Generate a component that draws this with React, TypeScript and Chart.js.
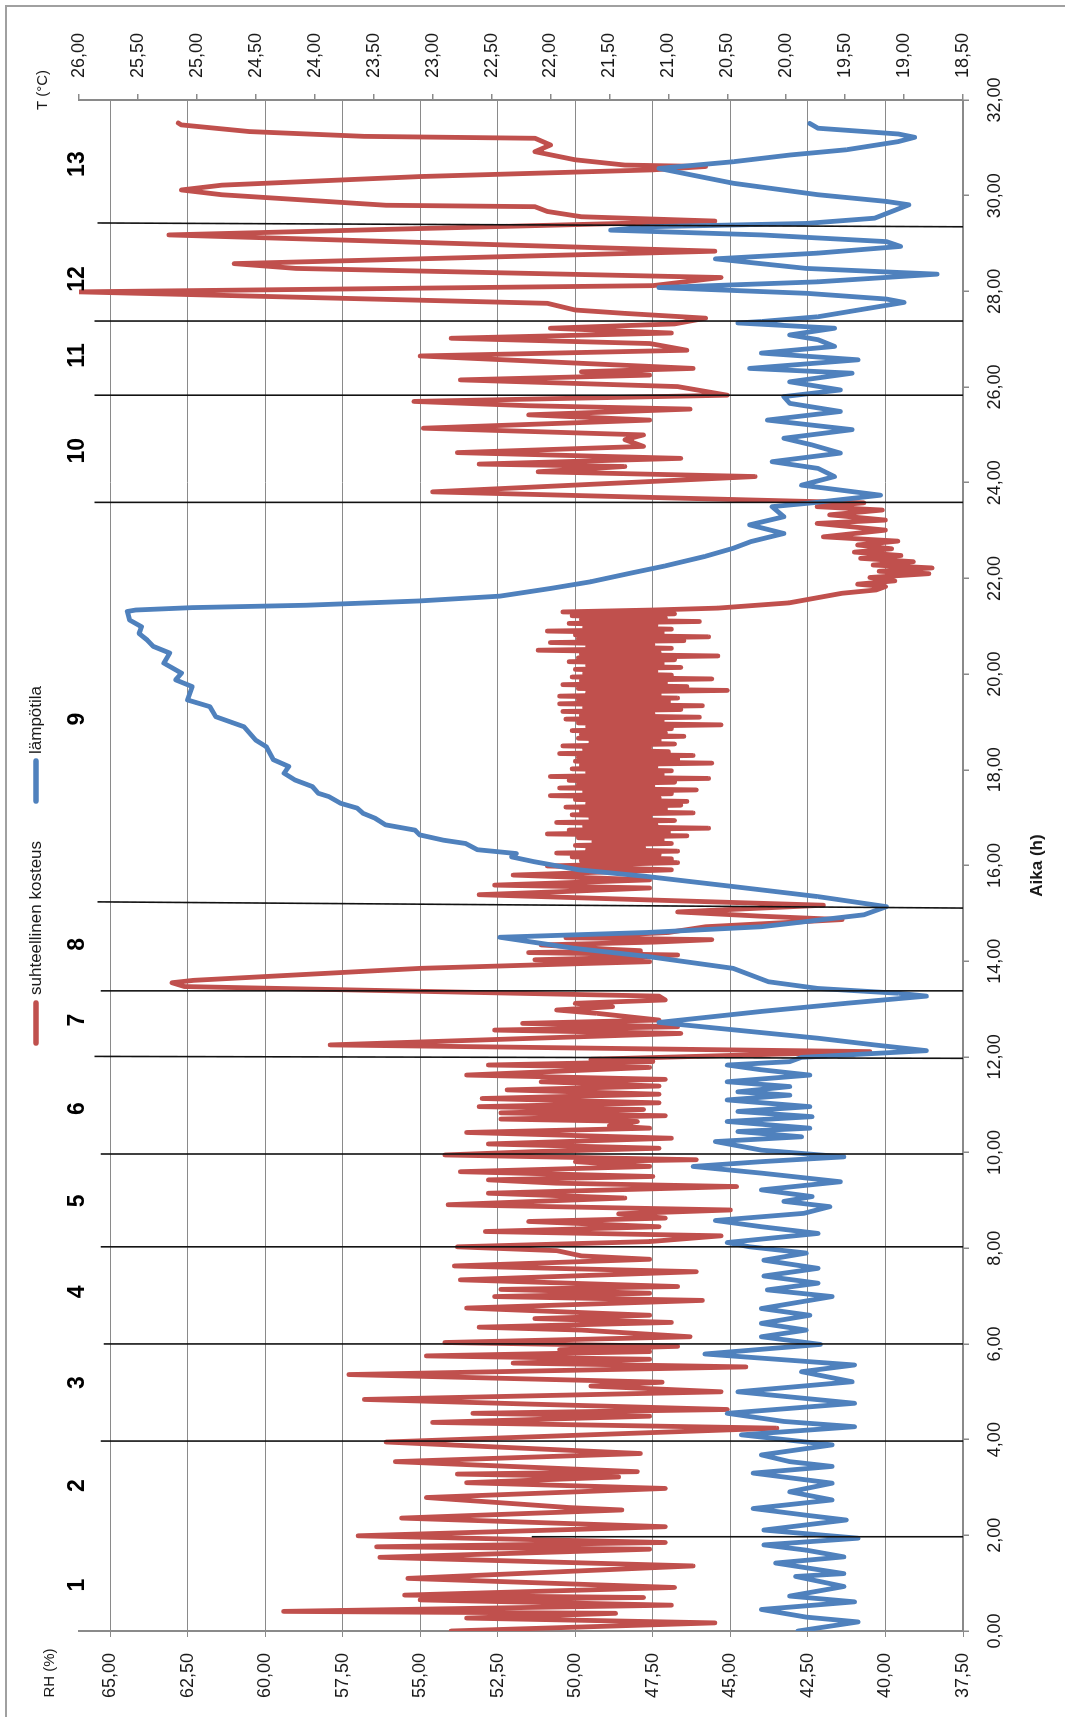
import { useEffect, useRef } from "react";
import { Chart, registerables } from "chart.js";

Chart.register(...registerables);

// Landscape drawing size; the canvas is turned a quarter turn on the page.
const W = 1717;
const H = 1065;

const FONT = "'Liberation Sans', Arial, sans-serif";
const RED = "#C0504D";
const BLUE = "#4F81BD";
const GRID = "#8a8a8a";
const TEXT = "#1a1a1a";

// Axis ticks
const hourTicks = [0, 2, 4, 6, 8, 10, 12, 14, 16, 18, 20, 22, 24, 26, 28, 30, 32];
const rhTicks = [37.5, 40, 42.5, 45, 47.5, 50, 52.5, 55, 57.5, 60, 62.5, 65];
const tempTicks = [18.5, 19, 19.5, 20, 20.5, 21, 21.5, 22, 22.5, 23, 23.5, 24, 24.5, 25, 25.5, 26];

// Test phases: label and centre hour
const sectionNames = ["1", "2", "3", "4", "5", "6", "7", "8", "9", "10", "11", "12", "13"];
const sectionCentres = [0.96, 3.04, 5.19, 7.09, 8.99, 10.92, 12.77, 14.35, 19.06, 24.67, 26.66, 28.26, 30.66];

// Phase boundaries: hour at the top end, hour at the axis end, RH level where the line begins
const edgeTopHours = [1.97, 3.97, 6.0, 8.03, 9.97, 12.01, 13.38, 15.24, 23.59, 25.83, 27.38, 29.43];
const edgeAxisHours = [1.97, 3.97, 6.0, 8.03, 9.97, 11.97, 13.38, 15.11, 23.59, 25.83, 27.38, 29.35];
const edgeStartRh = [51.4, 65.3, 65.2, 65.3, 65.3, 65.5, 65.3, 65.4, 65.5, 65.5, 65.5, 65.4];

// Relative humidity (%) readings: [hour, RH]
const rh0to4: [number, number][] = [
  [0, 54.0], [0.17, 45.5], [0.27, 53.5], [0.37, 48.7], [0.41, 59.4], [0.54, 46.9], [0.65, 55.0],
  [0.7, 47.8], [0.75, 55.5], [0.91, 46.8], [1.1, 55.4], [1.36, 46.2], [1.54, 56.3], [1.71, 47.6],
  [1.76, 56.4], [1.85, 47.1], [1.99, 57.0], [2.18, 47.1], [2.36, 55.6], [2.53, 48.5], [2.58, 50.2],
  [2.79, 54.8], [2.98, 47.1], [3.1, 53.5], [3.22, 48.6], [3.28, 53.8], [3.33, 48.0], [3.54, 55.8],
  [3.71, 47.9], [3.95, 56.1],
];
const rh4to9: [number, number][] = [
  [4.24, 43.5], [4.36, 54.6], [4.49, 47.6], [4.55, 53.3], [4.63, 45.1], [4.74, 51.3], [4.84, 56.8],
  [5.0, 45.3], [5.12, 49.5], [5.2, 47.2], [5.36, 57.3], [5.52, 44.5], [5.6, 52.0], [5.68, 47.6],
  [5.75, 54.8], [5.84, 47.6], [5.88, 50.5], [5.95, 46.7], [6.03, 54.2], [6.15, 46.3], [6.29, 49.8],
  [6.35, 53.1], [6.45, 46.9], [6.53, 51.3], [6.6, 47.6], [6.75, 53.5], [6.91, 45.9], [6.99, 52.6],
  [7.06, 47.6], [7.14, 52.4], [7.2, 46.7], [7.34, 53.7], [7.51, 46.1], [7.63, 53.9], [7.77, 47.6],
  [7.84, 49.8], [7.95, 50.6], [8.03, 53.8], [8.14, 47.6], [8.26, 45.3], [8.35, 52.9], [8.45, 47.3],
  [8.56, 51.5], [8.63, 47.1], [8.72, 48.6], [8.8, 45.0], [8.91, 54.1],
];
const rh9to14: [number, number][] = [
  [9.05, 48.4], [9.15, 52.8], [9.29, 44.8], [9.36, 50.6], [9.43, 52.8], [9.5, 47.5], [9.6, 53.7],
  [9.71, 47.6], [9.81, 50.0], [9.85, 46.1], [9.95, 54.2], [10.02, 51.3], [10.09, 47.3], [10.18, 52.8],
  [10.3, 46.9], [10.42, 53.5], [10.51, 47.6], [10.56, 48.9], [10.65, 48.0], [10.7, 52.4], [10.77, 47.1],
  [10.83, 52.4], [10.9, 47.8], [10.96, 53.1], [11.04, 47.3], [11.13, 53.0], [11.22, 47.3], [11.31, 52.2],
  [11.39, 47.3], [11.48, 51.1], [11.53, 47.1], [11.62, 53.5], [11.78, 47.6], [11.83, 52.8], [11.9, 47.5],
  [11.95, 49.5], [12.11, 40.5], [12.25, 57.9], [12.49, 46.6], [12.56, 52.6], [12.63, 46.7], [12.7, 51.7],
  [12.77, 47.3], [12.91, 49.3], [12.98, 50.6], [13.05, 48.8], [13.12, 50.0], [13.19, 47.1], [13.27, 47.3],
  [13.47, 62.6], [13.55, 63.0],
];
const rh13to16: [number, number][] = [
  [13.6, 62.3], [13.85, 55.0], [13.95, 49.8], [13.99, 47.6], [14.03, 51.3], [14.08, 48.2], [14.13, 46.7],
  [14.18, 51.5], [14.22, 47.9], [14.25, 48.9], [14.34, 51.1], [14.4, 47.4], [14.45, 45.6], [14.49, 50.3],
  [14.52, 49.5], [14.6, 47.0], [14.72, 45.8], [14.87, 41.4], [14.94, 44.0], [15.03, 46.7], [15.17, 42.0],
  [15.28, 47.6], [15.39, 53.1], [15.46, 50.2], [15.53, 47.6], [15.59, 52.6], [15.7, 47.6], [15.8, 52.0],
  [15.91, 46.9], [15.99, 50.9], [16.06, 46.7],
];
const rh16to21: [number, number][] = [
  [16.1, 49.8], [16.14, 46.9], [16.18, 50.1], [16.22, 47.3], [16.26, 50.6], [16.3, 46.7], [16.34, 49.6],
  [16.38, 47.8], [16.42, 50.0], [16.46, 46.9], [16.5, 49.4], [16.54, 47.2], [16.58, 49.9], [16.62, 46.4],
  [16.66, 50.9], [16.7, 47.0], [16.74, 50.2], [16.78, 45.7], [16.82, 49.7], [16.86, 47.4], [16.9, 50.6],
  [16.94, 46.8], [16.98, 49.5], [17.02, 47.6], [17.06, 50.1], [17.1, 46.2], [17.14, 49.8], [17.18, 47.1],
  [17.22, 50.3], [17.26, 46.6], [17.3, 49.6], [17.34, 46.4], [17.38, 50.0], [17.42, 47.3], [17.46, 50.8],
  [17.5, 46.9], [17.54, 49.7], [17.58, 46.1], [17.62, 50.5], [17.66, 47.5], [17.7, 49.9], [17.74, 46.8],
  [17.78, 50.2], [17.82, 45.7], [17.86, 50.8], [17.9, 47.2], [17.94, 49.6], [17.98, 46.9], [18.02, 50.1],
  [18.06, 47.4], [18.1, 49.8], [18.14, 45.6], [18.18, 50.0], [18.22, 46.7], [18.26, 49.9], [18.3, 46.2],
  [18.34, 50.5], [18.38, 47.0], [18.42, 49.7], [18.46, 47.6], [18.5, 50.4], [18.54, 46.8], [18.58, 49.5],
  [18.62, 47.3], [18.66, 49.9], [18.7, 46.5], [18.74, 49.8], [18.78, 47.1], [18.82, 50.1], [18.86, 46.9],
  [18.9, 49.6], [18.94, 45.3], [18.98, 49.9], [19.02, 47.2], [19.06, 50.3], [19.1, 46.0], [19.14, 49.8],
  [19.18, 47.5], [19.22, 50.4], [19.26, 46.6], [19.3, 49.7], [19.34, 45.9], [19.38, 50.5], [19.42, 47.0],
  [19.46, 49.9], [19.5, 46.7], [19.54, 50.5], [19.58, 47.3], [19.62, 49.6], [19.66, 45.1], [19.7, 49.9],
  [19.74, 46.4], [19.78, 50.4], [19.82, 47.1], [19.86, 49.8], [19.9, 45.6], [19.94, 50.1], [19.98, 46.9],
  [20.02, 49.7], [20.06, 47.4], [20.1, 50.0], [20.14, 46.6], [20.18, 49.6], [20.22, 47.2], [20.26, 50.2],
  [20.3, 46.8], [20.34, 49.9], [20.38, 45.4], [20.42, 49.8], [20.46, 47.3], [20.5, 51.2], [20.54, 46.9],
  [20.58, 49.6], [20.62, 47.5], [20.66, 50.8], [20.7, 46.5], [20.74, 49.9], [20.78, 45.7], [20.82, 50.0],
  [20.86, 47.2], [20.9, 50.9], [20.94, 46.9], [20.98, 49.7], [21.02, 47.4], [21.06, 50.2], [21.1, 46.0],
  [21.14, 49.8], [21.18, 47.1], [21.22, 50.1], [21.26, 46.8], [21.3, 50.4], [21.34, 47.5],
];
const rh21to24: [number, number][] = [
  [21.38, 45.4], [21.49, 43.1], [21.69, 41.4], [21.76, 40.3], [21.83, 40.0], [21.88, 40.9], [21.95, 39.7],
  [22.02, 40.5], [22.1, 38.6], [22.15, 40.2], [22.22, 38.5], [22.28, 40.4], [22.35, 39.1], [22.42, 40.8],
  [22.48, 39.5], [22.55, 41.0], [22.62, 39.8], [22.7, 40.9], [22.78, 39.6], [22.87, 42.0], [23.01, 40.0],
  [23.15, 42.2], [23.22, 40.0], [23.33, 41.8], [23.43, 40.1], [23.5, 42.2], [23.58, 40.7],
];
const rh24to27: [number, number][] = [
  [23.81, 54.6], [24.13, 44.2], [24.23, 51.2], [24.34, 48.4], [24.39, 53.1], [24.51, 46.6], [24.63, 53.8],
  [24.76, 47.8], [24.9, 48.4], [25.0, 47.8], [25.14, 54.9], [25.31, 47.6], [25.42, 51.5], [25.54, 46.3],
  [25.61, 51.5], [25.7, 55.2], [25.83, 45.1], [26.01, 46.7], [26.15, 53.7], [26.25, 47.6], [26.32, 49.8],
  [26.39, 46.2], [26.65, 55.0], [26.77, 46.4], [26.91, 47.6], [27.02, 54.0], [27.13, 46.9], [27.23, 50.8],
  [27.32, 46.8],
];
const rh27to32: [number, number][] = [
  [27.44, 45.8], [27.54, 48.4], [27.61, 50.0], [27.75, 50.9], [27.99, 66.0], [28.12, 47.5], [28.29, 45.3],
  [28.48, 59.0], [28.58, 61.0], [28.84, 45.5], [29.18, 63.1], [29.47, 45.5], [29.56, 49.8], [29.67, 50.9],
  [29.77, 51.3], [29.8, 56.1], [30.02, 61.4], [30.12, 62.7], [30.22, 61.4], [30.4, 55.0], [30.54, 47.5],
  [30.61, 45.8], [30.64, 48.4], [30.75, 50.0], [30.92, 51.3], [31.06, 50.8], [31.2, 51.3], [31.24, 56.8],
  [31.34, 60.5], [31.48, 62.7], [31.52, 62.8],
];

// Temperature (°C) readings: [hour, T]
const temp0to4: [number, number][] = [
  [0, 19.9], [0.19, 19.39], [0.29, 19.83], [0.45, 20.21], [0.61, 19.42], [0.73, 19.97], [0.93, 19.51],
  [1.14, 19.92], [1.2, 19.51], [1.42, 20.09], [1.55, 19.51], [1.69, 19.83], [1.8, 20.19], [1.94, 19.39],
  [2.11, 20.19], [2.32, 19.49], [2.42, 19.83], [2.56, 20.28], [2.74, 19.61], [2.91, 19.97], [3.09, 19.61],
  [3.3, 20.28], [3.44, 19.61], [3.54, 19.97], [3.68, 20.21], [3.89, 19.61], [4.1, 20.38], [4.27, 19.42],
  [4.38, 20.02],
];
const temp4to9: [number, number][] = [
  [4.55, 20.5], [4.76, 19.42], [5.0, 20.41], [5.21, 19.44], [5.42, 19.87], [5.56, 19.42], [5.79, 20.69],
  [5.99, 19.71], [6.15, 20.21], [6.29, 19.83], [6.43, 20.21], [6.6, 19.8], [6.74, 20.21], [6.99, 19.61],
  [7.13, 20.16], [7.27, 19.73], [7.42, 20.19], [7.58, 19.73], [7.75, 20.19], [7.9, 19.83], [8.03, 20.31],
  [8.12, 20.5], [8.31, 19.73], [8.45, 20.21], [8.58, 20.6], [8.73, 19.85], [8.87, 19.63], [8.98, 20.02],
];
const temp9to14: [number, number][] = [
  [9.08, 19.78], [9.22, 20.21], [9.39, 19.54], [9.57, 20.21], [9.71, 20.79], [9.81, 20.21], [9.91, 19.51],
  [10.05, 20.21], [10.23, 20.6], [10.33, 19.87], [10.44, 20.41], [10.51, 19.8], [10.65, 20.5], [10.75, 19.78],
  [10.86, 20.41], [10.96, 19.8], [11.1, 20.5], [11.2, 19.97], [11.27, 20.41], [11.38, 19.97], [11.48, 20.5],
  [11.62, 19.8], [11.73, 20.21], [11.83, 20.5], [11.9, 19.97], [11.99, 19.87], [12.13, 18.81], [12.25, 19.25],
  [12.39, 19.73], [12.72, 21.08], [12.95, 20.21], [13.12, 19.49], [13.27, 18.81], [13.33, 19.05],
  [13.43, 19.73], [13.57, 20.15],
];
const temp14to18: [number, number][] = [
  [13.85, 20.45], [14.1, 21.18], [14.27, 21.8], [14.5, 22.43], [14.6, 21.18], [14.72, 20.21], [14.97, 19.34],
  [15.14, 19.15], [15.35, 19.73], [15.56, 20.45], [15.77, 21.18], [15.91, 21.76], [16.08, 22.14],
  [16.18, 22.33], [16.25, 22.29], [16.33, 22.62], [16.46, 22.72], [16.53, 22.91], [16.64, 23.11],
  [16.74, 23.15], [16.85, 23.4], [16.99, 23.49], [17.09, 23.59], [17.2, 23.64], [17.3, 23.78], [17.44, 23.88],
  [17.51, 23.97], [17.65, 24.02], [17.79, 24.17], [17.93, 24.26], [18.07, 24.22], [18.21, 24.35],
];
const temp18to23: [number, number][] = [
  [18.48, 24.41], [18.62, 24.5], [18.9, 24.6], [19.11, 24.84], [19.32, 24.89], [19.46, 25.08], [19.74, 25.04],
  [19.88, 25.18], [20.02, 25.13], [20.23, 25.28], [20.44, 25.23], [20.58, 25.37], [20.71, 25.42],
  [20.85, 25.49], [20.99, 25.47], [21.13, 25.57], [21.31, 25.59], [21.34, 25.52], [21.39, 25.04],
  [21.44, 24.07], [21.53, 23.11], [21.63, 22.43], [21.79, 22.0], [21.93, 21.66], [22.11, 21.32],
  [22.26, 21.03], [22.46, 20.69], [22.63, 20.45], [22.77, 20.3],
];
const temp23to27: [number, number][] = [
  [22.94, 20.02], [23.12, 20.31], [23.29, 20.02], [23.5, 20.12], [23.58, 19.78], [23.74, 19.2], [23.95, 19.87],
  [24.13, 19.59], [24.3, 19.73], [24.44, 20.12], [24.62, 19.54], [24.79, 19.78], [24.93, 20.02], [25.11, 19.44],
  [25.31, 20.16], [25.49, 19.54], [25.66, 19.97], [25.8, 20.02], [25.94, 19.54], [26.11, 19.97], [26.29, 19.44],
  [26.39, 20.31], [26.57, 19.39], [26.71, 20.21], [26.85, 19.59], [26.99, 19.73], [27.09, 19.97],
  [27.23, 19.59], [27.34, 20.41],
];
const temp27to32: [number, number][] = [
  [27.37, 20.21], [27.47, 19.73], [27.77, 19.0], [27.84, 19.15], [27.96, 19.83], [28.08, 21.08], [28.2, 19.73],
  [28.36, 18.72], [28.48, 19.83], [28.68, 20.6], [28.8, 19.73], [28.94, 19.03], [29.04, 19.15], [29.18, 20.21],
  [29.28, 21.49], [29.35, 21.18], [29.42, 19.83], [29.53, 19.25], [29.81, 18.96], [29.88, 19.15],
  [30.02, 19.73], [30.26, 20.45], [30.57, 21.08], [30.71, 20.45], [30.85, 19.97], [30.96, 19.49],
  [31.13, 19.05], [31.22, 18.91], [31.29, 19.05], [31.41, 19.73], [31.51, 19.8],
];

const rhSeries = [...rh0to4, ...rh4to9, ...rh9to14, ...rh13to16, ...rh16to21, ...rh21to24, ...rh24to27, ...rh27to32];
const tempSeries = [
  ...temp0to4, ...temp4to9, ...temp9to14, ...temp14to18, ...temp18to23, ...temp23to27, ...temp27to32,
];

const commaFixed = (v: number) => v.toFixed(2).replace(".", ",");
const font = (size: number, weight = "normal") => ({ family: FONT, size, weight });

// Border, phase boundaries, phase numbers, legend and axis captions
const decorations = {
  id: "decorations",
  beforeDraw(chart: any) {
    const ctx = chart.ctx;
    ctx.save();
    ctx.strokeStyle = "#a0a0a0";
    ctx.lineWidth = 2;
    ctx.beginPath();
    ctx.moveTo(0, 6);
    ctx.lineTo(W - 6, 6);
    ctx.lineTo(W - 6, H);
    ctx.stroke();
    ctx.restore();
  },
  afterDatasetsDraw(chart: any) {
    const ctx = chart.ctx;
    const x = chart.scales.x;
    const rh = chart.scales.rh;
    const bottom = chart.chartArea.bottom;
    ctx.save();
    ctx.strokeStyle = "#111";
    ctx.lineWidth = 1.6;
    edgeTopHours.forEach((top, i) => {
      ctx.beginPath();
      ctx.moveTo(x.getPixelForValue(top), rh.getPixelForValue(edgeStartRh[i]));
      ctx.lineTo(x.getPixelForValue(edgeAxisHours[i]), bottom);
      ctx.stroke();
    });
    ctx.restore();
  },
  afterDraw(chart: any) {
    const ctx = chart.ctx;
    const x = chart.scales.x;
    const area = chart.chartArea;
    ctx.save();
    ctx.fillStyle = "#000";
    ctx.textBaseline = "middle";
    ctx.textAlign = "center";
    ctx.font = `bold 23px ${FONT}`;
    sectionNames.forEach((name, i) => ctx.fillText(name, x.getPixelForValue(sectionCentres[i]), 78));

    ctx.fillStyle = TEXT;
    ctx.font = `15px ${FONT}`;
    ctx.fillText("RH (%)", 44, 50);
    ctx.fillText("T (°C)", 1627, 43);
    ctx.font = `bold 17px ${FONT}`;
    ctx.fillText("Aika (h)", (area.left + area.right) / 2, 1037);

    // legend
    ctx.lineCap = "round";
    ctx.lineWidth = 5.5;
    ctx.strokeStyle = RED;
    ctx.beginPath();
    ctx.moveTo(674, 36);
    ctx.lineTo(714, 36);
    ctx.stroke();
    ctx.strokeStyle = BLUE;
    ctx.beginPath();
    ctx.moveTo(916, 36);
    ctx.lineTo(956, 36);
    ctx.stroke();
    ctx.textAlign = "left";
    ctx.font = `17px ${FONT}`;
    ctx.fillText("suhteellinen kosteus", 722, 36);
    ctx.fillText("lämpötila", 963, 36);
    ctx.restore();
  },
};

export default function App() {
  const canvasRef = useRef<HTMLCanvasElement>(null);

  useEffect(() => {
    const canvas = canvasRef.current;
    if (!canvas) return;
    const chart = new Chart(canvas, {
      type: "line",
      data: {
        datasets: [
          {
            label: "suhteellinen kosteus",
            data: rhSeries.map(([h, v]) => ({ x: h, y: v })),
            yAxisID: "rh",
            borderColor: RED,
            backgroundColor: RED,
            borderWidth: 4.8,
            order: 1,
          },
          {
            label: "lämpötila",
            data: tempSeries.map(([h, v]) => ({ x: h, y: v })),
            yAxisID: "temp",
            borderColor: BLUE,
            backgroundColor: BLUE,
            borderWidth: 4.8,
            order: 0,
          },
        ],
      },
      options: {
        responsive: false,
        animation: false,
        devicePixelRatio: 1,
        layout: { padding: { top: 79, left: 0, right: 0, bottom: 0 } },
        elements: {
          point: { radius: 0 },
          line: { tension: 0, borderJoinStyle: "round", borderCapStyle: "round" },
        },
        plugins: { legend: { display: false }, tooltip: { enabled: false }, title: { display: false } },
        scales: {
          x: {
            type: "linear",
            position: "bottom",
            min: 0,
            max: 32,
            afterBuildTicks: (s: any) => {
              s.ticks = hourTicks.map((v) => ({ value: v }));
            },
            afterFit: (s: any) => {
              s.height = 102;
            },
            ticks: {
              callback: (v: any) => commaFixed(Number(v)),
              font: font(18),
              color: TEXT,
              padding: 15,
              maxRotation: 0,
              autoSkip: false,
            },
            grid: { drawOnChartArea: false, drawTicks: true, tickLength: 6, color: GRID, lineWidth: 1.5 },
            border: { display: true, color: GRID, width: 2 },
          },
          rh: {
            type: "linear",
            position: "left",
            min: 37.5,
            max: 66,
            afterBuildTicks: (s: any) => {
              s.ticks = rhTicks.map((v) => ({ value: v }));
            },
            afterFit: (s: any) => {
              s.width = 86;
            },
            ticks: { callback: (v: any) => commaFixed(Number(v)), font: font(18), color: TEXT, padding: 16 },
            grid: { drawOnChartArea: true, drawTicks: true, tickLength: 6, color: GRID, lineWidth: 1 },
            border: { display: true, color: GRID, width: 2 },
          },
          temp: {
            type: "linear",
            position: "right",
            min: 18.5,
            max: 26,
            afterBuildTicks: (s: any) => {
              s.ticks = tempTicks.map((v) => ({ value: v }));
            },
            afterFit: (s: any) => {
              s.width = 100;
            },
            ticks: { callback: (v: any) => commaFixed(Number(v)), font: font(18), color: TEXT, padding: 16 },
            grid: { drawOnChartArea: false, drawTicks: true, tickLength: 6, color: GRID, lineWidth: 1.5 },
            border: { display: true, color: GRID, width: 2 },
          },
        },
      },
      plugins: [decorations],
    } as any);
    return () => chart.destroy();
  }, []);

  return (
    <div
      style={{
        position: "fixed",
        left: 0,
        top: 0,
        width: H,
        height: W,
        overflow: "hidden",
        background: "#fff",
      }}
    >
      <canvas
        ref={canvasRef}
        width={W}
        height={H}
        style={{
          position: "absolute",
          left: 0,
          top: 0,
          width: W,
          height: H,
          transformOrigin: "0 0",
          transform: `translate(0px, ${W}px) rotate(-90deg)`,
        }}
      />
    </div>
  );
}
